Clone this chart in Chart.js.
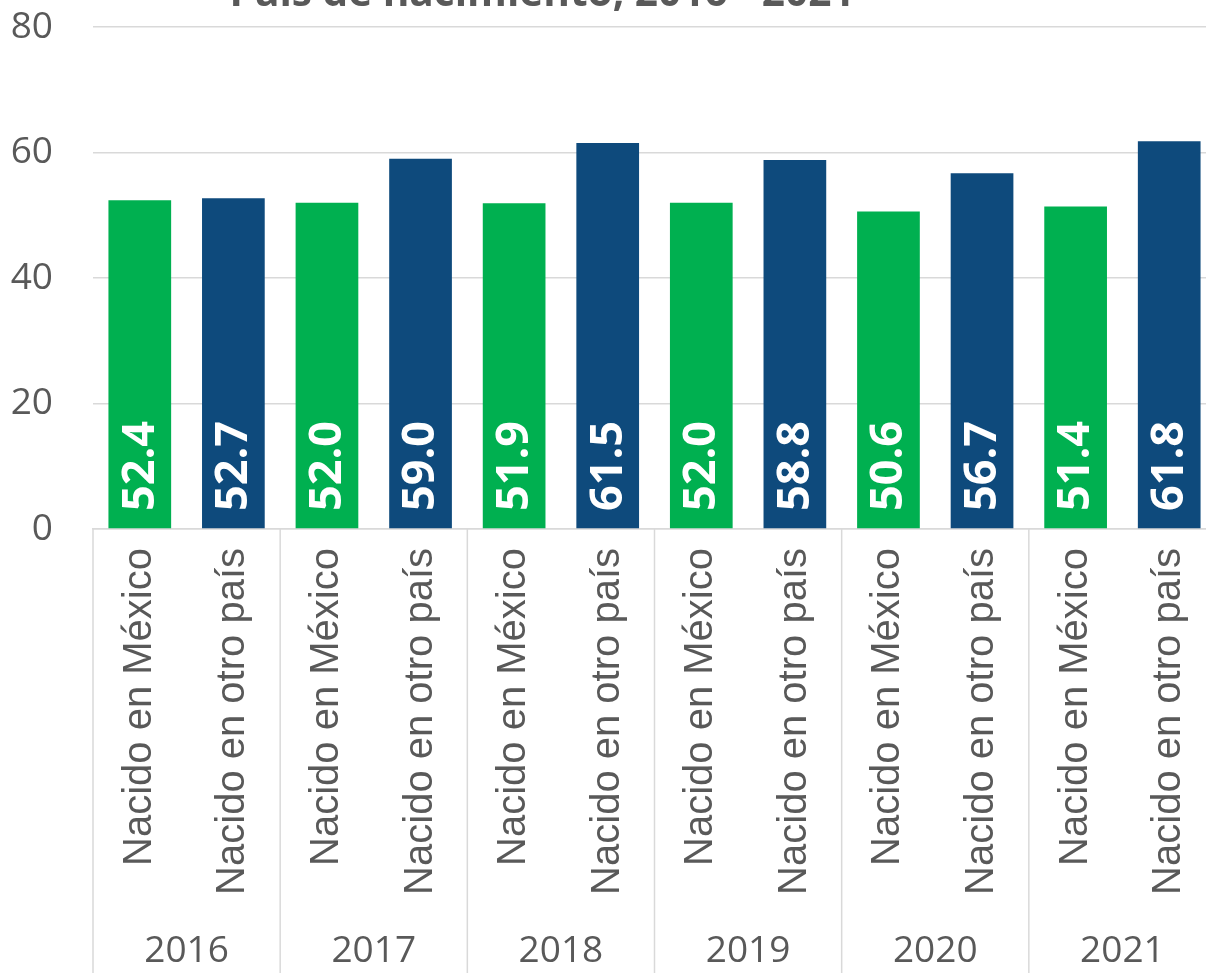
<!DOCTYPE html>
<html>
<head>
<meta charset="utf-8">
<script src="https://cdn.jsdelivr.net/npm/chart.js"></script>
<style>
    html, body { margin: 0; padding: 0; background: #fff; overflow: hidden; }
    /* the plot runs a little past the right edge, as in the original */
    #wrap { width: 1216px; height: 973px; }
</style>
</head>
<body>
<div id="wrap"><canvas id="myChart"></canvas></div>
<script>
const titleText = 'País de nacimiento, 2016 - 2021';
const years = ['2016', '2017', '2018', '2019', '2020', '2021'];
const groups = ['Nacido en México', 'Nacido en otro país'];
const values = [52.4, 52.7, 52.0, 59.0, 51.9, 61.5, 52.0, 58.8, 50.6, 56.7, 51.4, 61.8];
const yTicks = [0, 20, 40, 60, 80];

const green = '#00b050';
const navy = '#0e4a7c';
const gray = '#595959';
const lineGray = '#d9d9d9';
const numFont = '"Open Sans", sans-serif';
const labelFont = '"Liberation Sans", Arial, sans-serif';

// one label per bar, alternating the two groups
const labels = [];
years.forEach(() => groups.forEach(g => labels.push(g)));
const colors = labels.map((l, i) => i % 2 === 0 ? green : navy);

// title (cut off at the top), year separators, year labels, value labels
const extras = {
    id: 'extras',
    afterDatasetsDraw(chart) {
        const ctx = chart.ctx;
        const x = chart.scales.x;
        const area = chart.chartArea;
        ctx.save();

        // values inside bars, rotated
        const meta = chart.getDatasetMeta(0);
        ctx.fillStyle = '#ffffff';
        ctx.font = 'bold 45px ' + numFont;
        ctx.textAlign = 'left';
        ctx.textBaseline = 'middle';
        meta.data.forEach((bar, i) => {
            ctx.save();
            ctx.translate(bar.x + 1, area.bottom - 18);
            ctx.rotate(-Math.PI / 2);
            ctx.fillText(values[i].toFixed(1), 0, 0);
            ctx.restore();
        });

        // group separators below the axis
        ctx.strokeStyle = lineGray;
        ctx.lineWidth = 1.5;
        for (let k = 0; k <= years.length; k++) {
            let px;
            if (k === 0) px = area.left;
            else if (k === years.length) px = area.right - 1;
            else px = (x.getPixelForValue(2 * k - 1) + x.getPixelForValue(2 * k)) / 2;
            ctx.beginPath();
            ctx.moveTo(px, area.bottom);
            ctx.lineTo(px, chart.height);
            ctx.stroke();
        }

        // year labels
        ctx.fillStyle = gray;
        ctx.font = '37px ' + numFont;
        ctx.textAlign = 'center';
        ctx.textBaseline = 'middle';
        years.forEach((y, k) => {
            const cx = (x.getPixelForValue(2 * k) + x.getPixelForValue(2 * k + 1)) / 2;
            ctx.fillText(y, cx, chart.height - 22);
        });

        // title, mostly above the visible canvas
        let size = 40;
        ctx.font = 'bold ' + size + 'px ' + numFont;
        size = size * 625 / ctx.measureText(titleText).width;
        ctx.font = 'bold ' + size.toFixed(1) + 'px ' + numFont;
        ctx.textBaseline = 'alphabetic';
        ctx.fillText(titleText, 542, 6);
        ctx.restore();
    }
};

const ctx = document.getElementById('myChart').getContext('2d');
const myChart = new Chart(ctx, {
    type: 'bar',
    data: {
        labels: labels,
        datasets: [{
            data: values,
            backgroundColor: colors,
            categoryPercentage: 1.0,
            barPercentage: 0.67
        }]
    },
    options: {
        responsive: true,
        maintainAspectRatio: false,
        animation: false,
        layout: { padding: { top: 27, right: 0, bottom: 0, left: 0 } },
        plugins: {
            legend: { display: false },
            tooltip: { enabled: false }
        },
        scales: {
            x: {
                grid: { display: false, drawTicks: false },
                border: { display: true, color: lineGray, width: 1.5 },
                ticks: {
                    color: gray,
                    font: { family: labelFont, size: 40 },
                    minRotation: 90,
                    maxRotation: 90,
                    autoSkip: false,
                    padding: 19
                },
                afterFit: s => { s.paddingLeft = 0; s.paddingRight = 0; s.height = 444; }
            },
            y: {
                min: 0,
                max: 80,
                afterBuildTicks: axis => { axis.ticks = yTicks.map(v => ({ value: v })); },
                grid: { color: lineGray, lineWidth: 1.5, drawTicks: false },
                border: { display: false },
                ticks: {
                    color: gray,
                    font: { family: numFont, size: 37 },
                    padding: 40
                },
                afterFit: s => { s.paddingTop = 0; s.paddingBottom = 0; s.width = 93; }
            }
        }
    },
    plugins: [extras]
});
</script>
</body>
</html>
